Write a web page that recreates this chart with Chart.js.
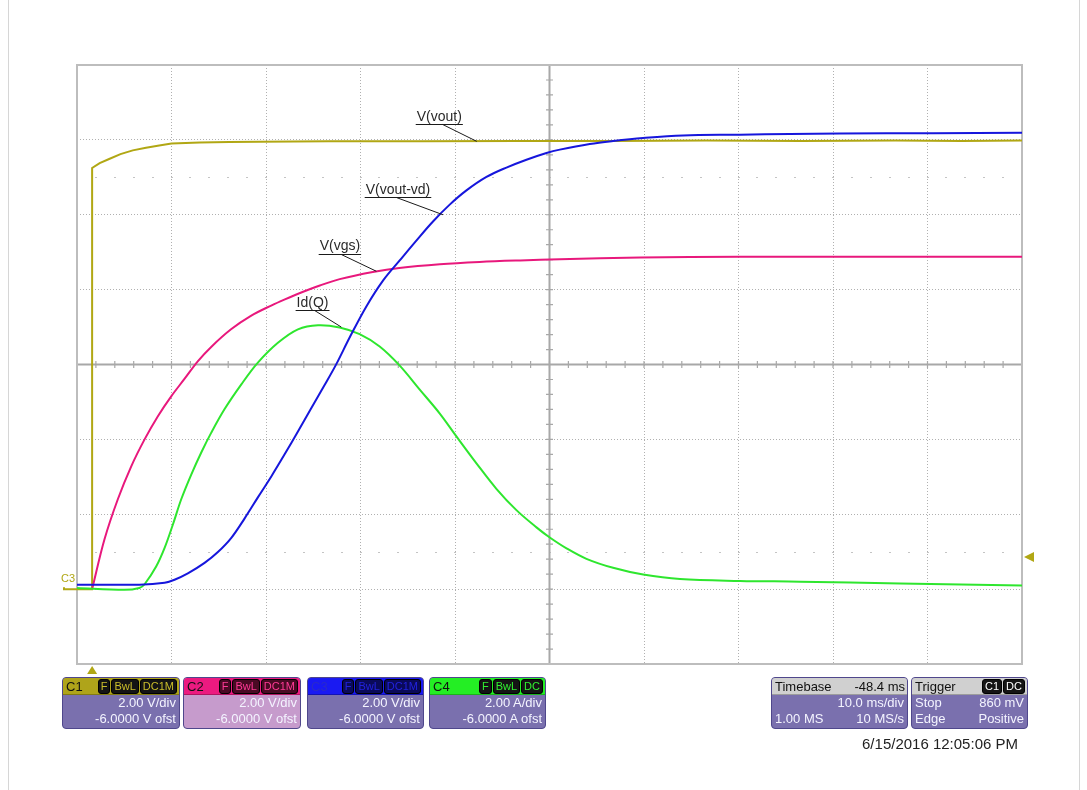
<!DOCTYPE html>
<html>
<head>
<meta charset="utf-8">
<title>MOSFET turn-on capture</title>
<script src="https://cdn.jsdelivr.net/npm/chart.js@4.4.1/dist/chart.umd.min.js"></script>
<style>
  html, body { margin: 0; padding: 0; background: #fff; }
  body { width: 1087px; height: 790px; position: relative; overflow: hidden;
         font-family: "Liberation Sans", Arial, sans-serif; }
  #scope { position: absolute; left: 0; top: 0; }
  .sheet { position: absolute; left: 8px; top: 0; width: 1072px; height: 790px;
           border-left: 1px solid #d6d6d6; border-right: 1px solid #d6d6d6; box-sizing: border-box; }
  .panel { position: absolute; top: 677px; height: 52px; border-radius: 4px; background: #7a70ae;
           border: 1px solid #4f478c; box-sizing: border-box; color: #f4f4ff; font-size: 13px;
           overflow: hidden; }
  .hdr { height: 17px; display: flex; align-items: center; justify-content: space-between;
         padding: 0 2px 0 3px; color: #111; border-bottom: 1px solid rgba(0,0,0,0.25); box-sizing: border-box; }
  .row { height: 16px; line-height: 16px; display: flex; justify-content: space-between; padding: 0 3px; }
  .tags { display: flex; gap: 1px; }
  .tag { background: #141414; border-radius: 3px; font-size: 11px; line-height: 13px; padding: 0 2px;
         border: 1px solid #000; }
  .date { position: absolute; right: 69px; top: 735px; font-size: 15px; color: #222; }
</style>
</head>
<body>
<div class="sheet"></div>
<canvas id="scope" width="1087" height="790"></canvas>

<div class="panel" style="left:62px;width:118px;">
  <div class="hdr" style="background:#afa41a;"><span>C1</span>
    <span class="tags"><span class="tag" style="color:#c9bd2a">F</span><span class="tag" style="color:#c9bd2a">BwL</span><span class="tag" style="color:#c9bd2a">DC1M</span></span></div>
  <div class="row"><span></span><span>2.00 V/div</span></div>
  <div class="row"><span></span><span>-6.0000 V ofst</span></div>
</div>
<div class="panel" style="left:183px;width:118px;background:#c69bcc;">
  <div class="hdr" style="background:#ec1a80;"><span>C2</span>
    <span class="tags"><span class="tag" style="color:#ff3a96;background:#4a0a24">F</span><span class="tag" style="color:#ff3a96;background:#4a0a24">BwL</span><span class="tag" style="color:#ff3a96;background:#4a0a24">DC1M</span></span></div>
  <div class="row"><span></span><span>2.00 V/div</span></div>
  <div class="row"><span></span><span>-6.0000 V ofst</span></div>
</div>
<div class="panel" style="left:307px;width:117px;">
  <div class="hdr" style="background:#1a1af2;"><span style="color:#2a2acc">C3</span>
    <span class="tags"><span class="tag" style="color:#2222dd;background:#0a0a5a">F</span><span class="tag" style="color:#2222dd;background:#0a0a5a">BwL</span><span class="tag" style="color:#2222dd;background:#0a0a5a">DC1M</span></span></div>
  <div class="row"><span></span><span>2.00 V/div</span></div>
  <div class="row"><span></span><span>-6.0000 V ofst</span></div>
</div>
<div class="panel" style="left:429px;width:117px;">
  <div class="hdr" style="background:#24ee24;"><span>C4</span>
    <span class="tags"><span class="tag" style="color:#30f030">F</span><span class="tag" style="color:#30f030">BwL</span><span class="tag" style="color:#30f030">DC</span></span></div>
  <div class="row"><span></span><span>2.00 A/div</span></div>
  <div class="row"><span></span><span>-6.0000 A ofst</span></div>
</div>
<div class="panel" style="left:771px;width:137px;">
  <div class="hdr" style="background:#d0d0d0;"><span>Timebase</span><span>-48.4 ms</span></div>
  <div class="row"><span></span><span>10.0 ms/div</span></div>
  <div class="row"><span>1.00 MS</span><span>10 MS/s</span></div>
</div>
<div class="panel" style="left:911px;width:117px;">
  <div class="hdr" style="background:#d0d0d0;"><span>Trigger</span>
    <span class="tags"><span class="tag" style="color:#fff">C1</span><span class="tag" style="color:#fff">DC</span></span></div>
  <div class="row"><span>Stop</span><span>860 mV</span></div>
  <div class="row"><span>Edge</span><span>Positive</span></div>
</div>
<div class="date">6/15/2016 12:05:06 PM</div>

<script>
// Time in ms relative to the trigger; 10 ms/div, trigger delay -48.4 ms.
const timeMin = -1.6;
const timeMax = 98.4;
const timeGrid = [-1.6, 8.4, 18.4, 28.4, 38.4, 48.4, 58.4, 68.4, 78.4, 88.4, 98.4];
// Vertical: 2 V (or 2 A) per division, -6 V offset -> screen spans -2 .. 14.
const levelMin = -2;
const levelMax = 14;
const triggerLevel = 0.86;

// C1  V(vout)
const voutT = [-1.6, 0, 0, 0.8, 1.8, 3.0, 4.3, 5.7, 7.1, 8.4, 11.4, 14.5, 17.7, 25, 35, 45, 55, 65, 75, 85, 92, 98.4];
const voutV = [0, 0, 11.25, 11.38, 11.49, 11.62, 11.72, 11.79, 11.85, 11.9, 11.93, 11.94, 11.95, 11.96, 11.96, 11.97, 11.97, 11.98, 11.97, 11.98, 11.97, 11.98];

// C2  V(vgs)
const vgsT = [0, 1.31, 2.72, 4.14, 5.55, 6.96, 8.37, 9.79, 11.2, 12.6, 14.7, 16.8, 19.0, 20.4, 22.0, 24.1, 26.2, 29.7, 32.5, 36.8, 41.0, 45.3, 49.5, 58.0, 68.5, 79.1, 98.4];
const vgsV = [0, 1.33, 2.40, 3.28, 4.00, 4.62, 5.15, 5.62, 6.09, 6.47, 6.94, 7.30, 7.58, 7.74, 7.91, 8.11, 8.28, 8.47, 8.58, 8.68, 8.74, 8.78, 8.81, 8.86, 8.88, 8.88, 8.88];

// C3  V(vout-vd)
const vdsT = [-1.6, 5.0, 7.67, 8.72, 10.13, 11.9, 13.31, 14.73, 16.14, 17.54, 18.96, 20.37, 21.78, 23.2, 24.6, 25.84, 27.25, 29.02, 30.78, 32.55, 34.31, 36.07, 37.84, 39.61, 41.73, 43.84, 45.96, 48.08, 49.49, 52.66, 55.13, 58.3, 62.54, 68.54, 73.84, 79.14, 89.0, 98.4];
const vdsV = [0.12, 0.12, 0.17, 0.25, 0.42, 0.70, 0.99, 1.37, 1.89, 2.45, 3.01, 3.60, 4.21, 4.84, 5.45, 6.01, 6.72, 7.55, 8.24, 8.78, 9.31, 9.82, 10.27, 10.65, 11.01, 11.26, 11.47, 11.65, 11.74, 11.89, 11.97, 12.05, 12.12, 12.14, 12.16, 12.17, 12.18, 12.19];

// C4  Id(Q)
const idT = [-1.6, 3.4, 5.0, 5.55, 6.79, 7.67, 8.54, 9.43, 10.49, 11.55, 12.61, 14.02, 15.79, 17.54, 19.66, 21.78, 23.9, 26.19, 28.31, 30.43, 32.55, 34.67, 36.79, 38.55, 40.67, 42.78, 44.9, 47.02, 48.43, 50.2, 52.31, 55.13, 58.31, 62.21, 68.56, 74.91, 85.5, 98.4];
const idA = [0.03, -0.02, 0.03, 0.13, 0.61, 1.10, 1.72, 2.40, 3.06, 3.65, 4.18, 4.81, 5.47, 6.05, 6.58, 6.94, 7.05, 6.99, 6.81, 6.48, 5.97, 5.33, 4.69, 4.08, 3.36, 2.68, 2.11, 1.65, 1.38, 1.09, 0.81, 0.57, 0.39, 0.27, 0.22, 0.20, 0.15, 0.10];

// Trace labels with leader lines (data units).
const noteText = ['V(vout)', 'V(vout-vd)', 'V(vgs)', 'Id(Q)'];
const noteTextT = [34.35, 28.95, 24.08, 21.64];
const noteTextV = [12.62, 10.67, 9.15, 7.63];
const noteLeadT = [37.1, 32.2, 26.37, 23.55];
const noteTipT = [40.7, 37.13, 30.08, 26.37];
const noteTipV = [11.96, 10.0, 8.49, 7.0];

const OLIVE = '#b1a714';
const MAGENTA = '#e8187c';
const BLUE = '#1616dc';
const GREEN = '#2ee62e';

const pairs = (ts, vs) => ts.map((t, i) => ({ x: t, y: vs[i] }));

const scopeGrid = {
  id: 'scopeGrid',
  beforeDatasetsDraw(chart) {
    const { ctx, chartArea: a, scales: { x, y } } = chart;
    const cx = x.getPixelForValue((timeMin + timeMax) / 2);
    const cy = y.getPixelForValue((levelMin + levelMax) / 2);
    ctx.save();
    // dotted rows half a division inside top and bottom
    ctx.fillStyle = '#c4c4c4';
    [1, 11].forEach(v => {
      const py = Math.round(y.getPixelForValue(v));
      for (let k = 1; k < 50; k++) {
        const px = Math.round(x.getPixelForValue(timeMin + k * 2));
        ctx.fillRect(px - 1, py, 2, 1);
      }
    });
    // centre crosshair with fifth-division ticks
    ctx.strokeStyle = '#a8a8a8';
    ctx.lineWidth = 2;
    ctx.beginPath();
    ctx.moveTo(a.left, cy); ctx.lineTo(a.right, cy);
    ctx.moveTo(cx, a.top); ctx.lineTo(cx, a.bottom);
    ctx.stroke();
    ctx.lineWidth = 1.2;
    ctx.beginPath();
    for (let k = 1; k < 50; k++) {
      const px = x.getPixelForValue(timeMin + k * 2);
      ctx.moveTo(px, cy - 3.5); ctx.lineTo(px, cy + 3.5);
    }
    for (let k = 1; k < 40; k++) {
      const py = y.getPixelForValue(levelMin + k * 0.4);
      ctx.moveTo(cx - 3.5, py); ctx.lineTo(cx + 3.5, py);
    }
    ctx.stroke();
    // screen frame
    ctx.strokeStyle = '#bdbdbd';
    ctx.lineWidth = 2;
    ctx.strokeRect(a.left, a.top, a.right - a.left, a.bottom - a.top);
    ctx.restore();
  },
  afterDatasetsDraw(chart) {
    const { ctx, chartArea: a, scales: { x, y } } = chart;
    ctx.save();
    // trace labels
    ctx.font = '14px "Liberation Sans", Arial, sans-serif';
    ctx.textBaseline = 'middle';
    ctx.fillStyle = '#2a2a2a';
    ctx.strokeStyle = '#1a1a1a';
    ctx.lineWidth = 1;
    noteText.forEach((txt, i) => {
      const tx = x.getPixelForValue(noteTextT[i]);
      const ty = y.getPixelForValue(noteTextV[i]);
      const w = ctx.measureText(txt).width;
      ctx.fillText(txt, tx, ty);
      const uy = Math.round(ty + 7) + 0.5;
      ctx.beginPath();
      ctx.moveTo(tx - 1, uy); ctx.lineTo(tx + w + 1, uy);
      ctx.moveTo(x.getPixelForValue(noteLeadT[i]), uy);
      ctx.lineTo(x.getPixelForValue(noteTipT[i]), y.getPixelForValue(noteTipV[i]));
      ctx.stroke();
    });
    // ground reference marker and channel tag on the left
    const y0 = y.getPixelForValue(0);
    ctx.strokeStyle = OLIVE;
    ctx.lineWidth = 2;
    ctx.beginPath();
    ctx.moveTo(64, y0 - 2); ctx.lineTo(64, y0); ctx.lineTo(a.left, y0);
    ctx.stroke();
    ctx.fillStyle = OLIVE;
    ctx.font = '11px "Liberation Sans", Arial, sans-serif';
    ctx.fillText('C3', 61, y0 - 10);
    // trigger position (bottom) and trigger level (right)
    const tp = x.getPixelForValue(0);
    ctx.beginPath();
    ctx.moveTo(tp, a.bottom + 2); ctx.lineTo(tp - 5, a.bottom + 10); ctx.lineTo(tp + 5, a.bottom + 10);
    ctx.closePath(); ctx.fill();
    const tl = y.getPixelForValue(triggerLevel);
    ctx.beginPath();
    ctx.moveTo(a.right + 2, tl); ctx.lineTo(a.right + 12, tl - 5); ctx.lineTo(a.right + 12, tl + 5);
    ctx.closePath(); ctx.fill();
    ctx.restore();
  }
};

const trace = (label, data, color, extra) => Object.assign({
  label, data, borderColor: color, backgroundColor: color, showLine: true,
  pointRadius: 0, borderWidth: 2, fill: false, tension: 0.35
}, extra || {});

const gridOpts = { color: '#b0b0b0', lineWidth: 1, drawTicks: false };

new Chart(document.getElementById('scope'), {
  type: 'scatter',
  data: {
    datasets: [
      trace('V(vout-vd)', pairs(vdsT, vdsV), BLUE),
      trace('Id(Q)', pairs(idT, idA), GREEN),
      trace('V(vgs)', pairs(vgsT, vgsV), MAGENTA),
      trace('V(vout)', pairs(voutT, voutV), OLIVE, { tension: 0 })
    ]
  },
  options: {
    responsive: false,
    animation: false,
    events: [],
    layout: { padding: { left: 77, top: 65, right: 65, bottom: 126 } },
    plugins: { legend: { display: false }, tooltip: { enabled: false } },
    scales: {
      x: {
        type: 'linear', min: timeMin, max: timeMax,
        afterBuildTicks: s => { s.ticks = timeGrid.map(v => ({ value: v })); },
        ticks: { display: false },
        grid: gridOpts,
        border: { display: false, dash: [1, 2] }
      },
      y: {
        type: 'linear', min: levelMin, max: levelMax,
        ticks: { display: false, stepSize: 2 },
        grid: gridOpts,
        border: { display: false, dash: [1, 2] }
      }
    }
  },
  plugins: [scopeGrid]
});
</script>
</body>
</html>
